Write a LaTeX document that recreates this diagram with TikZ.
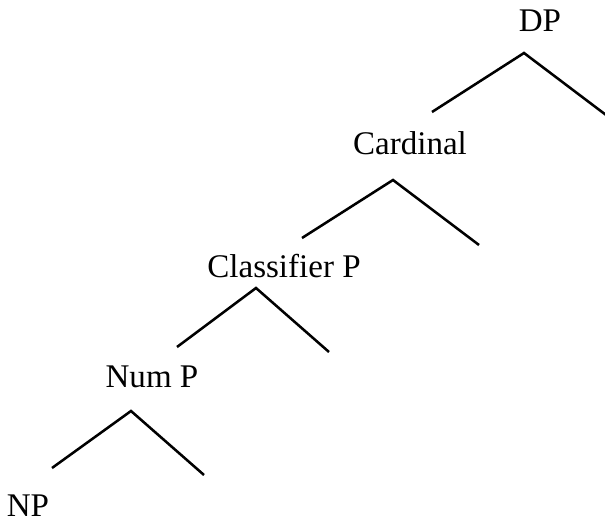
\documentclass[tikz,border=0pt]{standalone}
\usepackage{fontspec}
\setmainfont{Liberation Serif}

\begin{document}
\begin{tikzpicture}[branch/.style={line width=1.8pt},
    lbl/.style={anchor=base,inner sep=0pt,font=\fontsize{23.5}{28}\selectfont}]

            \useasboundingbox (0,0) rectangle (15.125,13.125);

            % labels of the projections
            \node[lbl] (dp) at (13.5,12.325) {DP};
            \node[lbl] (card) at (10.25,9.25) {Cardinal};
            \node[lbl] (clf) at (7.1,6.2) {Classifier P};
            \node[lbl] (num) at (3.8,3.45) {Num P};
            \node[lbl] (np) at (0.7,0.22) {NP};

            % branch points
            \coordinate (dp-top) at (13.1,11.8);
            \coordinate (dp-l) at (10.8,10.325);
            \coordinate (dp-r) at (15.25,10.175);

            \coordinate (card-top) at (9.825,8.625);
            \coordinate (card-l) at (7.55,7.175);
            \coordinate (card-r) at (11.975,7.0);

            \coordinate (clf-top) at (6.4,5.925);
            \coordinate (clf-l) at (4.425,4.45);
            \coordinate (clf-r) at (8.225,4.325);

            \coordinate (num-top) at (3.275,2.85);
            \coordinate (num-l) at (1.3,1.425);
            \coordinate (num-r) at (5.1,1.25);

            \draw[branch] (dp-l) -- (dp-top) -- (dp-r);
            \draw[branch] (card-l) -- (card-top) -- (card-r);
            \draw[branch] (clf-l) -- (clf-top) -- (clf-r);
            \draw[branch] (num-l) -- (num-top) -- (num-r);

        \end{tikzpicture}
\end{document}
